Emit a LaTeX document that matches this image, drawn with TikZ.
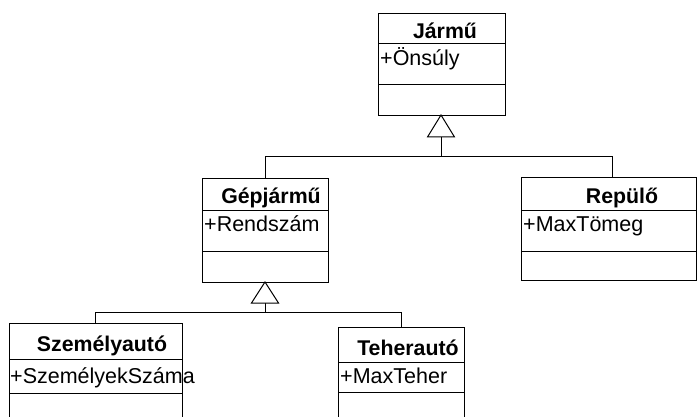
\documentclass[tikz,border=0pt]{standalone}
\usepackage{fontspec}
\setmainfont{Liberation Sans}
\usetikzlibrary{calc}
\tikzset{
  classbox/.style={draw=black, line width=1pt, rectangle, inner sep=0pt, anchor=north west},
  titletext/.style={inner sep=0pt, anchor=base, font=\fontsize{21.3}{25}\selectfont\bfseries},
  attrtext/.style={inner sep=0pt, anchor=base west, font=\fontsize{21.5}{25}\selectfont},
  conn/.style={draw=black, line width=1pt},
  gentri/.style={draw=black, line width=1pt, fill=white, line join=miter}
}
\begin{document}
\begin{tikzpicture}[x=1pt, y=-1pt]
\path[use as bounding box] (0,0) rectangle (697,417);
\clip (0,0) rectangle (697,417);
\fill[white] (0,0) rectangle (697,417);

% Jármű
\node[classbox, minimum width=127pt, minimum height=102pt] (jarmu) at (378,13) {};
\draw[conn] (378,44) -- (505,44);
\draw[conn] (378,85) -- (505,85);
\node[titletext] (jarmuT) at (445,39) {Jármű};
\node[attrtext] (jarmuA) at (380,66) {+Önsúly};

% Gépjármű
\node[classbox, minimum width=126pt, minimum height=104pt] (gep) at (202,178) {};
\draw[conn] (202,211) -- (328,211);
\draw[conn] (202,252) -- (328,252);
\node[titletext] (gepT) at (271,204) {Gépjármű};
\node[attrtext] (gepA) at (204,232) {+Rendszám};

% Repülő
\node[classbox, minimum width=175pt, minimum height=103pt] (rep) at (521,177) {};
\draw[conn] (521,211) -- (696,211);
\draw[conn] (521,252) -- (696,252);
\node[titletext] (repT) at (622,204) {Repülő};
\node[attrtext] (repA) at (523,232) {+MaxTömeg};

% Személyautó
\node[classbox, minimum width=173pt, minimum height=105pt] (szem) at (9,323) {};
\draw[conn] (9,359) -- (182,359);
\draw[conn] (9,393) -- (182,393);
\node[titletext] (szemT) at (102,351) {Személyautó};
\node[attrtext] (szemA) at (10,383) {+SzemélyekSzáma};

% Teherautó
\node[classbox, minimum width=126pt, minimum height=100pt] (teher) at (338,327) {};
\draw[conn] (338,362) -- (464,362);
\draw[conn] (338,392) -- (464,392);
\node[titletext] (teherT) at (408,355) {Teherautó};
\node[attrtext] (teherA) at (340,383) {+MaxTeher};

% Generalization: Jármű
\coordinate (japex) at (441,115);
\coordinate (jbase) at (441,137);
\coordinate (jbar) at (441,157);
\coordinate (repTop) at (612,177);
\draw[conn] (jbase) -- (jbar);
\draw[conn] (jbar) -| (gep.north);
\draw[conn] (jbar) -| (repTop);
\draw[gentri] (japex) -- (427.5,137) -- (454.5,137) -- cycle;

% Generalization: Gépjármű
\coordinate (gapex) at (265,282);
\coordinate (gbase) at (265,303);
\coordinate (gbar) at (265,312);
\coordinate (szemTop) at (95,323);
\coordinate (teherTop) at (401,327);
\draw[conn] (gbase) -- (gbar);
\draw[conn] (gbar) -| (szemTop);
\draw[conn] (gbar) -| (teherTop);
\draw[gentri] (gapex) -- (251.5,303) -- (278.5,303) -- cycle;
\end{tikzpicture}
\end{document}
